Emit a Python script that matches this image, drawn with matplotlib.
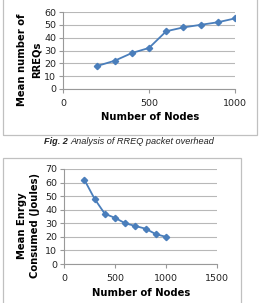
import matplotlib
matplotlib.use("Agg")
import matplotlib.pyplot as plt
from matplotlib.patches import Rectangle

nodes = [200, 300, 400, 500, 600, 700, 800, 900, 1000]
rreq = [18, 22, 28, 32, 45, 48, 50, 52, 55]
energy = [62, 48, 37, 34, 30, 28, 26, 22, 20]

top_yticks = [0, 10, 20, 30, 40, 50, 60]
top_xticks = [0, 500, 1000]
bot_yticks = [0, 10, 20, 30, 40, 50, 60, 70]
bot_xticks = [0, 500, 1000, 1500]

W, H = 261, 303
fig = plt.figure(figsize=(W / 100, H / 100), dpi=100)
fig.patch.set_facecolor("white")

def fx(px):
    return px / W

def fy(py):
    return 1 - py / H

line_color = "#4A7EBB"
grid_color = "#B8B8B8"
tick_fs = 6.8
label_fs = 7.2

def style(ax, xticks, yticks, xlim, ylim):
    ax.set_xlim(*xlim)
    ax.set_ylim(*ylim)
    ax.set_xticks(xticks)
    ax.set_yticks(yticks)
    ax.set_xticklabels([str(t) for t in xticks], fontsize=tick_fs, color="#222222")
    ax.set_yticklabels([str(t) for t in yticks], fontsize=tick_fs, color="#222222")
    ax.grid(axis="y", color=grid_color, linewidth=0.8)
    ax.set_axisbelow(True)
    for s in ["top", "right"]:
        ax.spines[s].set_visible(False)
    for s in ["left", "bottom"]:
        ax.spines[s].set_color("#999999")
        ax.spines[s].set_linewidth(0.8)
    ax.tick_params(axis="both", length=3, width=0.8, color="#999999", pad=2)
    ax.tick_params(axis="x", pad=4)
    ax.patch.set_alpha(0)

# boxes
fig.add_artist(Rectangle((fx(2.5), fy(135)), fx(257) - fx(2.5), fy(-2) - fy(135),
                         transform=fig.transFigure, fill=False, edgecolor="#C0C0C0", linewidth=0.9))
fig.add_artist(Rectangle((fx(3), fy(310)), fx(241) - fx(3), fy(158) - fy(310),
                         transform=fig.transFigure, fill=False, edgecolor="#C0C0C0", linewidth=0.9))

# top chart
ax1 = fig.add_axes([fx(63), fy(89), fx(235) - fx(63), fy(12) - fy(89)])
ax1.plot(nodes, rreq, color=line_color, linewidth=1.3, marker="D", markersize=3.2,
         markerfacecolor=line_color, markeredgecolor=line_color)
style(ax1, top_xticks, top_yticks, (0, 1000), (0, 60))
fig.text(fx(150), fy(117), "Number of Nodes", ha="center", va="center",
         fontsize=label_fs, fontweight="bold")
fig.text(fx(22), fy(60), "Mean number of", ha="center", va="center", rotation=90,
         fontsize=label_fs, fontweight="bold")
fig.text(fx(37), fy(60), "RREQs", ha="center", va="center", rotation=90,
         fontsize=label_fs, fontweight="bold")

# caption
renderer = fig.canvas.get_renderer()
cap_fs = 6.6
t1 = fig.text(0, fy(142), "Fig. 2 ", ha="left", va="center", fontsize=cap_fs,
              family="Liberation Sans", style="italic", fontweight="bold", color="#222222")
t2 = fig.text(0, fy(142), "Analysis of RREQ packet overhead", ha="left", va="center",
              fontsize=cap_fs, family="Liberation Sans", style="italic", color="#222222")
w1 = t1.get_window_extent(renderer).width
w2 = t2.get_window_extent(renderer).width
x0 = 129 - (w1 + w2) / 2
t1.set_x(fx(x0))
t2.set_x(fx(x0 + w1))

# bottom chart
ax2 = fig.add_axes([fx(64), fy(264), fx(217) - fx(64), fy(169) - fy(264)])
ax2.plot(nodes, energy, color=line_color, linewidth=1.3, marker="D", markersize=3.2,
         markerfacecolor=line_color, markeredgecolor=line_color)
style(ax2, bot_xticks, bot_yticks, (0, 1500), (0, 70))
fig.text(fx(141), fy(293), "Number of Nodes", ha="center", va="center",
         fontsize=label_fs, fontweight="bold")
fig.text(fx(22), fy(226), "Mean Enrgy", ha="center", va="center", rotation=90,
         fontsize=label_fs, fontweight="bold")
fig.text(fx(35), fy(226), "Consumed (Joules)", ha="center", va="center", rotation=90,
         fontsize=label_fs, fontweight="bold")

fig.savefig("out.png", dpi=100)
